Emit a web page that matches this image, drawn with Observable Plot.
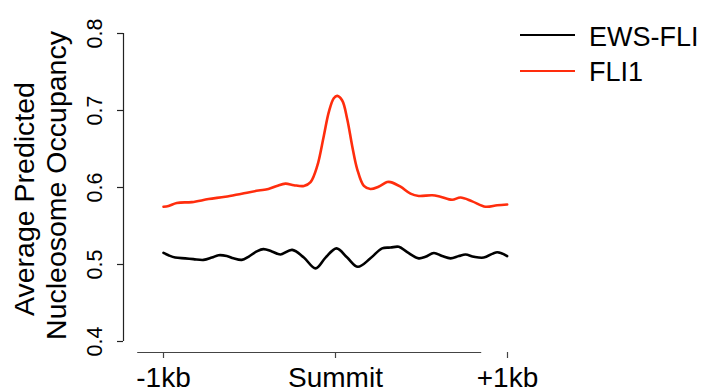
<!DOCTYPE html>
<html>
<head>
<meta charset="utf-8">
<script src="https://cdn.jsdelivr.net/npm/d3@7"></script>
<script src="https://cdn.jsdelivr.net/npm/@observablehq/plot@0.6"></script>
<style>
  html, body { margin: 0; padding: 0; background: #fff; }
  #wrap { position: relative; width: 704px; height: 391px; font-family: "Liberation Sans", Arial, Helvetica, sans-serif; }
  .lg-line { position: absolute; height: 0; width: 55px; }
  .lg-text { position: absolute; font-size: 27px; line-height: 28px; color: #000; white-space: nowrap; }
</style>
</head>
<body>
<div id="wrap"></div>
<script>
// ---- data ----
const seriesNames = ["EWS-FLI", "FLI1"];
const seriesColors = ["#000000", "#ff2d0d"];

const ewsPos = [-1000, -971, -932, -874, -826, -767, -719, -680, -632, -593, -545, -506, -458, -419, -370, -320, -252, -184, -116, -58, 6, 68, 130, 203, 271, 320, 368, 417, 484, 523, 572, 620, 669, 717, 756, 805, 862, 940, 998];
const ewsVal = [0.515, 0.512, 0.509, 0.508, 0.507, 0.506, 0.509, 0.512, 0.511, 0.508, 0.506, 0.510, 0.517, 0.520, 0.517, 0.513, 0.519, 0.509, 0.495, 0.509, 0.521, 0.509, 0.497, 0.508, 0.521, 0.522, 0.523, 0.516, 0.508, 0.510, 0.515, 0.511, 0.508, 0.511, 0.513, 0.510, 0.509, 0.516, 0.511];

const fliPos = [-1000, -971, -923, -835, -738, -641, -545, -448, -390, -341, -291, -242, -184, -145, -106, -68, -39, -10, 10, 39, 68, 97, 126, 165, 203, 250, 300, 320, 378, 436, 484, 562, 610, 678, 727, 795, 872, 940, 998];
const fliVal = [0.575, 0.576, 0.580, 0.581, 0.585, 0.588, 0.592, 0.596, 0.598, 0.602, 0.605, 0.603, 0.602, 0.607, 0.628, 0.667, 0.698, 0.716, 0.719, 0.713, 0.689, 0.654, 0.624, 0.602, 0.598, 0.601, 0.607, 0.607, 0.601, 0.592, 0.589, 0.590, 0.588, 0.584, 0.587, 0.582, 0.575, 0.577, 0.578];

const xTicks = [-1000, 0, 1000];
const xTickLabels = ["-1kb", "Summit", "+1kb"];
const yTicks = [0.4, 0.5, 0.6, 0.7, 0.8];
const yTitleLines = ["Average Predicted", "Nucleosome Occupancy"];
const xAxisLineExtent = [-1150, 850];

// ---- build tables ----
const ews = ewsPos.map((x, i) => ({x, y: ewsVal[i]}));
const fli = fliPos.map((x, i) => ({x, y: fliVal[i]}));

const chart = Plot.plot({
  width: 704,
  height: 391,
  marginLeft: 123,
  marginRight: 197,
  marginTop: 33,
  marginBottom: 39,
  style: {fontFamily: "Liberation Sans, Arial, Helvetica, sans-serif", background: "#fff", color: "#000", overflow: "visible"},
  x: {domain: [-1000, 1000], insetLeft: 40},
  y: {domain: [0.4, 0.8], insetBottom: 11},
  marks: [
    // y axis line + ticks + labels
    Plot.ruleX([xTicks[0]], {y1: yTicks[0], y2: yTicks[yTicks.length - 1], dx: -40, stroke: "#222", strokeWidth: 1.2}),
    Plot.axisY(yTicks, {tickSize: 6, fill: "none", label: null, stroke: "#222", strokeWidth: 1.2}),
    Plot.text(yTicks, {y: d => d, text: d => d.toFixed(1), frameAnchor: "left", textAnchor: "middle", lineAnchor: "middle", rotate: -90, dx: -28, fontSize: 21.5}),
    // y title
    Plot.text([yTitleLines[0]], {text: d => d, frameAnchor: "left", textAnchor: "middle", lineAnchor: "middle", rotate: -90, dx: -99, dy: 6, fontSize: 28.5}),
    Plot.text([yTitleLines[1]], {text: d => d, frameAnchor: "left", textAnchor: "middle", lineAnchor: "middle", rotate: -90, dx: -67, dy: -7.5, fontSize: 28.5}),
    // x axis line + ticks + labels
    Plot.ruleY([yTicks[0]], {x1: xAxisLineExtent[0], x2: xAxisLineExtent[1], dy: 11, stroke: "#444", strokeWidth: 1.2}),
    Plot.axisX(xTicks, {tickSize: 6, tickPadding: 9, fontSize: 28, label: null, stroke: "#444", strokeWidth: 1.2,
      tickFormat: d => xTickLabels[xTicks.indexOf(d)]}),
    // data lines
    Plot.line(ews, {x: "x", y: "y", stroke: seriesColors[0], strokeWidth: 2.6, curve: "catmull-rom"}),
    Plot.line(fli, {x: "x", y: "y", stroke: seriesColors[1], strokeWidth: 2.6, curve: "catmull-rom"})
  ]
});

const wrap = document.getElementById("wrap");
wrap.appendChild(chart);

// legend (top right)
const legendLineY = [35, 71];
const legendTextTop = [23, 58];
seriesNames.forEach((name, i) => {
  const ln = document.createElement("div");
  ln.className = "lg-line";
  ln.style.left = "520px";
  ln.style.top = (legendLineY[i] - 1) + "px";
  ln.style.borderTop = "2px solid " + seriesColors[i];
  wrap.appendChild(ln);
  const tx = document.createElement("div");
  tx.className = "lg-text";
  tx.style.left = "589px";
  tx.style.top = legendTextTop[i] + "px";
  tx.textContent = name;
  wrap.appendChild(tx);
});
</script>
</body>
</html>
